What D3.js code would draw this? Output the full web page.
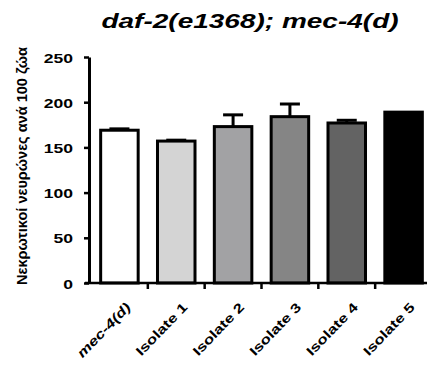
<!DOCTYPE html>
<html>
<head>
<meta charset="utf-8">
<script src="https://cdn.jsdelivr.net/npm/d3@7"></script>
<style>
  html, body { margin: 0; padding: 0; background: #fff; }
  svg { display: block; }
  text { font-family: "Liberation Sans", Arial, sans-serif; font-weight: bold; fill: #000; }
</style>
</head>
<body>
<svg id="chart" width="427" height="365"></svg>
<script>
// Dead neurons per 100 animals, mean and upper error
const categories = ["mec-4(d)", "Isolate 1", "Isolate 2", "Isolate 3", "Isolate 4", "Isolate 5"];
const means = [169, 157, 173, 184, 177, 189];
const errors = [1.5, 1, 13, 14, 3, 0];
const fills = ["#ffffff", "#d4d4d4", "#a2a2a4", "#858585", "#636363", "#000000"];
const yTicks = [0, 50, 100, 150, 200, 250];
const title = "daf-2(e1368); mec-4(d)";
const yTitle = "Νεκρωτικοί νευρώνες ανά 100 ζώα";

const svg = d3.select("#chart");

const y = d3.scaleLinear().domain([0, 250]).range([283, 57]);
const x = d3.scaleBand().domain(categories).range([91, 432])
  .paddingInner(0.34).paddingOuter(0.17);

// title
svg.append("text")
  .attr("transform", `translate(250,28) scale(1.4,1)`)
  .attr("text-anchor", "middle")
  .attr("font-size", 20)
  .attr("font-style", "italic")
  .text(title);

// y-axis title
svg.append("text")
  .attr("transform", `translate(27,166) rotate(-90) scale(1,1.15)`)
  .attr("text-anchor", "middle")
  .attr("font-size", 12.5)
  .attr("textLength", 238)
  .attr("lengthAdjust", "spacingAndGlyphs")
  .text(yTitle);

// bars
svg.append("g").selectAll("rect")
  .data(categories)
  .join("rect")
  .attr("x", d => x(d))
  .attr("width", x.bandwidth())
  .attr("y", (d, i) => y(means[i]))
  .attr("height", (d, i) => y(0) - y(means[i]))
  .attr("fill", (d, i) => fills[i])
  .attr("stroke", "#000")
  .attr("stroke-width", 3);

// upper error bars
const eb = svg.append("g").attr("stroke", "#000").attr("stroke-width", 3);
categories.forEach((c, i) => {
  if (errors[i] <= 0) return;
  const cx = x(c) + x.bandwidth() / 2;
  eb.append("line").attr("x1", cx).attr("x2", cx)
    .attr("y1", y(means[i])).attr("y2", y(means[i] + errors[i]));
  eb.append("line").attr("x1", cx - 10).attr("x2", cx + 10)
    .attr("y1", y(means[i] + errors[i])).attr("y2", y(means[i] + errors[i]));
});

// y axis
const yAxis = svg.append("g").attr("transform", "translate(89,0)")
  .call(d3.axisLeft(y).tickValues(yTicks).tickSize(5).tickPadding(4).tickSizeOuter(0));
yAxis.select(".domain").attr("stroke", "#000").attr("stroke-width", 3);
yAxis.selectAll(".tick line").attr("stroke", "#000").attr("stroke-width", 2.5);
yAxis.selectAll(".tick text")
  .attr("x", null).attr("dy", null)
  .attr("font-size", 13.5)
  .attr("font-family", "Liberation Sans, Arial, sans-serif")
  .attr("text-anchor", "end")
  .attr("transform", "translate(-16,5) scale(1.3,1)")
  .text(d => d);

// x axis line and boundary ticks
svg.append("line").attr("x1", 85).attr("x2", 427).attr("y1", 283).attr("y2", 283)
  .attr("stroke", "#000").attr("stroke-width", 2.5);
const bounds = categories.slice(1).map(c => x(c) - x.step() * x.paddingInner() / 2);
svg.append("g").selectAll("line").data(bounds).join("line")
  .attr("x1", d => d).attr("x2", d => d).attr("y1", 283).attr("y2", 289)
  .attr("stroke", "#000").attr("stroke-width", 2.5);

// category labels
svg.append("g").selectAll("text").data(categories).join("text")
  .attr("transform", d => `translate(${x(d) + x.bandwidth() / 2 + 12},308) rotate(-46) scale(1.3,1)`)
  .attr("text-anchor", "end")
  .attr("font-size", 13)
  .attr("font-style", (d, i) => i === 0 ? "italic" : "normal")
  .text(d => d);
</script>
</body>
</html>
